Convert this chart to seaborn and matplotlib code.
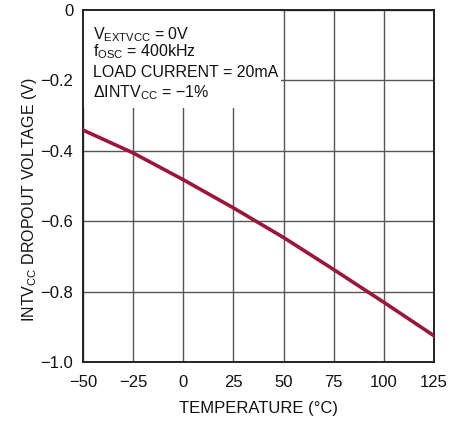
import numpy as np
import pandas as pd
import matplotlib
matplotlib.use("Agg")
import matplotlib.pyplot as plt
from matplotlib.patches import Rectangle
import seaborn as sns

# ---------------- data ---------------- #
temperature = [-50, -25, 0, 25, 50, 75, 100, 125]
dropout_v = [-0.341, -0.406, -0.482, -0.562, -0.646, -0.737, -0.830, -0.925]

x_ticks = [-50, -25, 0, 25, 50, 75, 100, 125]
x_labels = ["\u221250", "\u221225", "0", "25", "50", "75", "100", "125"]
y_ticks = [0, -0.2, -0.4, -0.6, -0.8, -1.0]
y_labels = ["0", "\u22120.2", "\u22120.4", "\u22120.6", "\u22120.8", "\u22121.0"]

notes = [
    r"V$_{\mathrm{EXTVCC}}$ = 0V",
    r"f$_{\mathrm{OSC}}$ = 400kHz",
    "LOAD CURRENT = 20mA",
    "$\\Delta$INTV$_{\\mathrm{CC}}$ = \u22121%",
]

df = pd.DataFrame({"temp": temperature, "v": dropout_v})

# ---------------- style ---------------- #
sns.set_style("white")
font = "Liberation Sans"
plt.rcParams["font.family"] = [font, "DejaVu Sans"]
plt.rcParams["mathtext.fontset"] = "custom"
plt.rcParams["mathtext.rm"] = font
plt.rcParams["mathtext.it"] = font
plt.rcParams["mathtext.default"] = "regular"

fig = plt.figure(figsize=(4.67, 4.21), dpi=100)
ax = fig.add_axes([0.178, 0.140, 0.751, 0.836])

sns.lineplot(data=df, x="temp", y="v", color="#9c1639", linewidth=2.6, ax=ax, zorder=3)

ax.set_xlim(-50, 125)
ax.set_ylim(-1.0, 0)
ax.set_xticks(x_ticks)
ax.set_xticklabels(x_labels)
ax.set_yticks(y_ticks)
ax.set_yticklabels(y_labels)
ax.tick_params(axis="both", length=0, labelsize=12, colors="#111111")
ax.tick_params(axis="x", pad=9)
ax.tick_params(axis="y", pad=7)

ax.set_axisbelow(True)
ax.grid(True, color="#555555", linewidth=1.0)
for s in ax.spines.values():
    s.set_color("#222222")
    s.set_linewidth(1.4)

# white box behind the notes hides the grid
ax.add_patch(Rectangle((0, 0.722), 0.565, 0.278, transform=ax.transAxes,
                       facecolor="white", edgecolor="none", zorder=1))

note_y = [0.918, 0.87, 0.81, 0.753]
for txt, yy in zip(notes, note_y):
    ax.text(0.027, yy, txt, transform=ax.transAxes, fontsize=11.5,
            color="#111111", va="baseline", zorder=4)

ax.set_xlabel("TEMPERATURE (\u00b0C)", fontsize=12, color="#111111", labelpad=8)
ax.set_ylabel(r"INTV$_{\mathrm{CC}}$ DROPOUT VOLTAGE (V)", fontsize=11.5,
              color="#111111")
ax.yaxis.set_label_coords(-0.125, 0.46)

fig.savefig("out.png", dpi=100)
